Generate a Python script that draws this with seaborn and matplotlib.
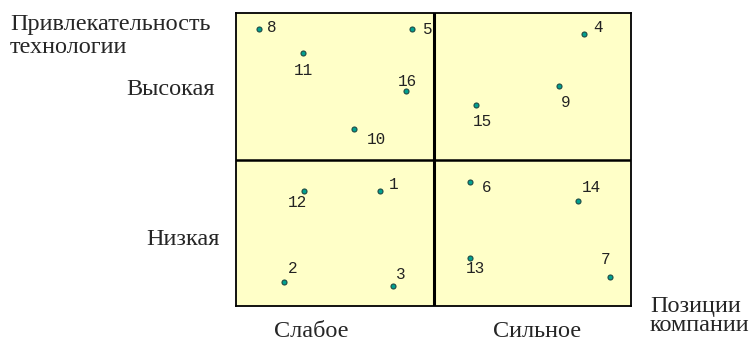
import numpy as np
import pandas as pd
import matplotlib
matplotlib.use("Agg")
from matplotlib import pyplot as plt
import seaborn as sns

# point numbers and their positions on a 0..10 grid
labels = ['1', '2', '3', '4', '5', '6', '7', '8', '9', '10', '11', '12', '13', '14', '15', '16']
pos_x = [3.65, 1.22, 3.97, 8.81, 4.46, 5.92, 9.47, 0.59, 8.17, 2.99, 1.70, 1.71, 5.92, 8.65, 6.07, 4.30]
pos_y = [3.92, 0.83, 0.67, 9.27, 9.44, 4.24, 0.99, 9.44, 7.50, 6.03, 8.62, 3.92, 1.65, 3.59, 6.85, 7.34]
# where each number sits relative to its dot (pixels, y downwards)
label_dx = [13, 8, 8, 14, 16, 17, -5, 13, 7, 22, 0, -6, 6, 14, 7, 2]
label_dy = [-7, -13, -12, -7, 0, 6, -17, -2, 16, 10, 17, 11, 11, -13, 16, -9]

row_names = ['Высокая', 'Низкая']
col_names = ['Слабое', 'Сильное']

df = pd.DataFrame({'x': pos_x, 'y': pos_y, 'label': labels})

sns.set_style("white")
plt.rcParams['font.family'] = ['Liberation Serif', 'DejaVu Serif']

fig = plt.figure(figsize=(7.53, 3.42), dpi=100)
ax = fig.add_axes([236 / 753, 36 / 342, 395 / 753, 293 / 342])
ax.set_facecolor('#FFFFC8')

sns.scatterplot(data=df, x='x', y='y', ax=ax, s=13, color='#00a090',
                edgecolor='#1f4a44', linewidth=0.8, legend=False, zorder=3)

for lx, ly, lab, dx, dy in zip(pos_x, pos_y, labels, label_dx, label_dy):
    ax.annotate(lab, (lx, ly), xytext=(dx, -dy), textcoords='offset pixels',
                ha='center', va='center', fontsize=11.5,
                family=['Liberation Mono', 'DejaVu Sans Mono'], color='#222222')

ax.set_xlim(0, 10)
ax.set_ylim(0, 10)
ax.axvline(5, color='black', lw=2.2, zorder=2)
ax.axhline(5, color='black', lw=1.8, zorder=2)
for s in ax.spines.values():
    s.set_color('black')
    s.set_linewidth(1.3)
ax.set_xticks([])
ax.set_yticks([])
ax.set_xlabel('')
ax.set_ylabel('')

def fx(px):
    return px / 753

def fy(py):
    return 1 - py / 342

fs = 17.5
fig.text(fx(10), fy(30), 'Привлекательность', ha='left', va='baseline', fontsize=fs)
fig.text(fx(10), fy(53), 'технологии', ha='left', va='baseline', fontsize=fs)
fig.text(fx(215), fy(95), row_names[0], ha='right', va='baseline', fontsize=fs)
fig.text(fx(220), fy(245), row_names[1], ha='right', va='baseline', fontsize=fs)
fig.text(fx(311), fy(337), col_names[0], ha='center', va='baseline', fontsize=fs)
fig.text(fx(537), fy(337), col_names[1], ha='center', va='baseline', fontsize=fs)
fig.text(fx(650), fy(312), 'Позиции', ha='left', va='baseline', fontsize=fs)
fig.text(fx(650), fy(331), 'компании', ha='left', va='baseline', fontsize=fs)

fig.savefig('out.png', dpi=100)
